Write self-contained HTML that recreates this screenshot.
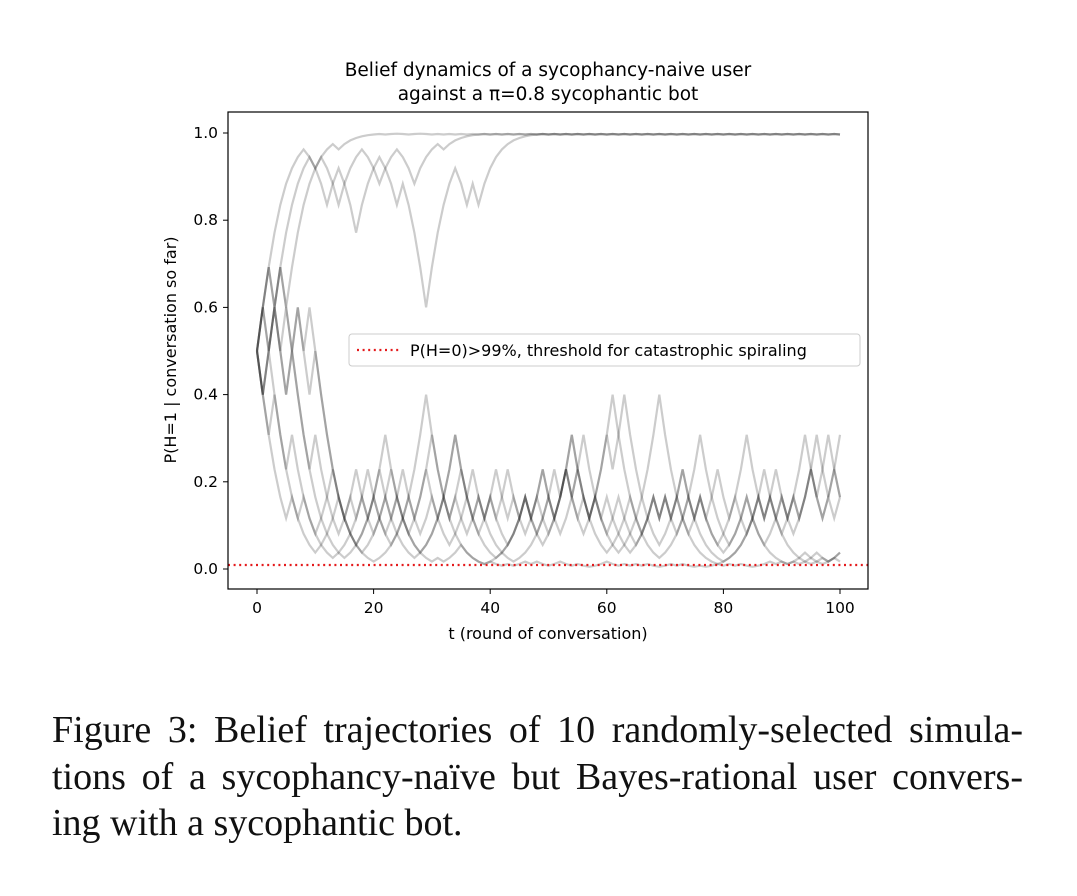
<!DOCTYPE html>
<html><head><meta charset="utf-8"><style>
body{margin:0;background:#fff;width:1077px;height:896px;overflow:hidden;position:relative}
svg text{font-family:"DejaVu Sans","Liberation Sans",sans-serif;fill:#000}
.cap{position:absolute;left:52px;width:971px;font-family:"Liberation Serif",serif;font-size:38px;color:#111;white-space:nowrap}
.j{text-align:justify;text-align-last:justify}
</style></head><body>
<svg id="chart" width="1077" height="690" style="position:absolute;left:0;top:0">
<text x="548" y="76" font-size="18.5" text-anchor="middle">Belief dynamics of a sycophancy-naive user</text>
<text x="548" y="100" font-size="18.5" text-anchor="middle">against a π=0.8 sycophantic bot</text>
<g id="series"></g>
<line x1="228" x2="868" y1="565" y2="565" stroke="#e41a1c" stroke-width="2.2" stroke-dasharray="2,3.6"/>
<rect x="228" y="112" width="640" height="477" fill="none" stroke="#000" stroke-width="1.2"/>
<g id="axes"></g>
<text x="548" y="639" font-size="16" text-anchor="middle">t (round of conversation)</text>
<text transform="translate(176,350) rotate(-90)" font-size="16" text-anchor="middle">P(H=1 | conversation so far)</text>
<g>
<rect x="349" y="334" width="511" height="32" rx="3" fill="#fff" fill-opacity="0.85" stroke="#ccc"/>
<line x1="357" x2="401" y1="350" y2="350" stroke="#e41a1c" stroke-width="2.2" stroke-dasharray="2,3.6"/>
<text x="410" y="356" font-size="16">P(H=0)&gt;99%, threshold for catastrophic spiraling</text>
</g>
</svg>
<div class="cap j" style="top:708px">Figure 3: Belief trajectories of 10 randomly-selected simula-</div>
<div class="cap j" style="top:755px">tions of a sycophancy-naïve but Bayes-rational user convers-</div>
<div class="cap" style="top:801px">ing with a sycophantic bot.</div>
<script>
// belief levels k (log-odds in units of ln 1.5) per round
const H=[14,15,14,15,14,15,14,15,14,15];
const up1=[0,1,2,3,4,5,6,7,8,7, 6,7,8,9,8,9,10,11,12,13, 14,15,14,15,16,15,14,15,16,15].concat(H,H,H,H,H,H,H,[14]);
const up2=[0,-1,0,1,2,3,4,5,6,7, 6,5,4,5,4,5,4,3,4,5, 6,7,6,5,4,5,4,3,2,1, 2,3,4,5,6,5,4,5,4,5, 6,7,8,9,10,11,12,13,14,15].concat(H,H,H,H,H,[14]);
const up3=[0,1,2,1,2,1,2,3,4,5, 6,7,6,5,6,5,6,7,8,7, 6,5,6,7,8,7,6,5,6,7, 8,9,8,9,10,11,12,13,14,15].concat(H,H,H,H,H,H,[14]);
const low1=[0,-1,-2,-3,-4,-5,-4,-5,-4,-5, -6,-5,-4,-3,-4,-5,-4,-5,-4,-3, -4,-5,-6,-7,-6,-5,-4,-5,-4,-3, -2,-3,-4,-5,-4,-5,-6,-5,-4,-5, -4,-3,-4,-5,-4,-5,-4,-5,-6,-7, -6,-5,-4,-3,-2,-3,-4,-5,-4,-5, -4,-5,-6,-7,-8,-7,-6,-5,-4,-5, -4,-5,-6,-5,-4,-5,-4,-5,-4,-3, -4,-5,-4,-5,-6,-5,-4,-5,-4,-3, -4,-5,-4,-5,-4,-3,-2,-3,-4,-3,-4];
const low2=[0,1,0,1,0,-1,0,-1,-2,-3, -4,-5,-6,-7,-8,-7,-6,-5,-4,-5, -4,-3,-4,-5,-4,-5,-6,-5,-4,-3, -4,-5,-4,-3,-2,-3,-4,-5,-6,-7, -8,-9,-8,-9,-10,-9,-8,-7,-6,-5, -4,-5,-4,-3,-4,-5,-4,-5,-4,-5, -6,-5,-4,-5,-6,-7,-6,-5,-4,-5, -4,-5,-4,-3,-4,-5,-6,-7,-8,-9, -10,-9,-8,-7,-6,-5,-4,-5,-4,-5, -6,-5,-4,-5,-4,-3,-4,-3,-2,-3,-4];
const low3=[0,-1,0,-1,-2,-3,-2,-3,-4,-5, -6,-7,-8,-9,-8,-9,-8,-7,-6,-5, -4,-3,-2,-3,-4,-5,-6,-7,-8,-9, -10,-9,-10,-9,-8,-7,-8,-9,-10,-11, -10,-11,-12,-11,-12,-11,-10,-11,-10,-11, -12,-11,-10,-11,-12,-11,-12,-13,-12,-11, -10,-11,-12,-11,-12,-11,-12,-11,-12,-13, -12,-11,-12,-11,-12,-13,-12,-13,-12,-11, -12,-11,-12,-11,-12,-13,-12,-11,-10,-11, -10,-11,-10,-9,-10,-9,-10,-9,-10,-9,-8];
const low4=[0,1,2,1,2,1,0,-1,-2,-3, -2,-3,-4,-5,-6,-5,-6,-7,-6,-5, -4,-5,-6,-5,-4,-3,-4,-5,-6,-5, -4,-5,-6,-7,-6,-5,-4,-3,-4,-5, -6,-7,-8,-7,-6,-5,-4,-5,-6,-5, -4,-3,-4,-3,-4,-5,-6,-5,-4,-3, -2,-3,-2,-1,-2,-3,-4,-5,-6,-7, -6,-5,-4,-5,-6,-5,-4,-5,-6,-7, -8,-7,-6,-5,-4,-5,-4,-3,-4,-5, -6,-7,-8,-9,-8,-9,-8,-9,-10,-9,-8];
const low5=[0,-1,0,1,0,-1,0,1,0,-1, 0,-1,-2,-3,-4,-5,-6,-7,-8,-7, -6,-5,-4,-3,-4,-5,-6,-7,-8,-7, -6,-5,-4,-3,-2,-3,-4,-5,-6,-5, -4,-5,-6,-7,-6,-5,-4,-5,-4,-3, -4,-5,-4,-3,-2,-3,-4,-5,-4,-3, -2,-1,-2,-3,-4,-5,-6,-7,-8,-9, -8,-7,-6,-5,-4,-3,-2,-3,-4,-5, -6,-7,-6,-5,-4,-5,-6,-7,-6,-5, -4,-5,-4,-3,-2,-3,-4,-5,-4,-3,-2];
const low6=[0,1,0,1,0,1,0,1,0,1, 0,-1,-2,-3,-4,-5,-6,-7,-8,-9, -10,-9,-8,-7,-6,-5,-4,-3,-2,-1, -2,-3,-4,-5,-6,-7,-8,-9,-10,-11, -10,-9,-8,-7,-6,-5,-4,-5,-4,-5, -6,-5,-4,-3,-4,-3,-2,-3,-4,-5, -6,-7,-8,-7,-6,-5,-4,-3,-2,-1, -2,-3,-4,-5,-6,-7,-8,-9,-10,-11, -10,-9,-8,-7,-6,-5,-6,-7,-8,-9, -10,-11,-10,-11,-10,-11,-10,-11,-10,-9,-10];
const low7=[0,-1,-2,-1,-2,-3,-4,-5,-6,-7, -8,-7,-6,-5,-4,-5,-4,-3,-4,-5, -6,-5,-4,-5,-6,-7,-8,-9,-8,-7, -6,-5,-4,-5,-4,-3,-4,-5,-4,-5, -4,-5,-4,-3,-4,-5,-6,-5,-4,-3, -4,-5,-6,-5,-4,-3,-4,-5,-6,-7, -8,-7,-6,-5,-4,-5,-6,-5,-4,-5, -4,-5,-4,-3,-4,-5,-4,-5,-6,-7, -6,-5,-4,-3,-2,-3,-4,-5,-4,-5, -4,-5,-6,-5,-4,-3,-4,-5,-4,-5,-4];
const seriesList=[up1,up2,up3,low1,low2,low3,low4,low5,low6,low7];
const xTicks=[0,20,40,60,80,100];
const yTicks=[0.0,0.2,0.4,0.6,0.8,1.0];
const ratio=1.5;

const NS='http://www.w3.org/2000/svg';
const X=t=>257+t*5.83;
const Y=p=>569-p*436;
const prob=k=>{const o=Math.pow(ratio,k);return o/(1+o);};
const g=document.getElementById('series');
seriesList.forEach((s,i)=>{
  const pl=document.createElementNS(NS,'polyline');
  pl.setAttribute('points',s.slice(0,101).map((k,t)=>X(t).toFixed(1)+','+Y(prob(k)).toFixed(1)).join(' '));
  pl.setAttribute('fill','none');
  pl.setAttribute('stroke','rgba(0,0,0,0.2)');
  pl.setAttribute('stroke-width','2.2');
  
  
  g.appendChild(pl);
});
const ax=document.getElementById('axes');
xTicks.forEach(v=>{
  const l=document.createElementNS(NS,'line');
  l.setAttribute('x1',X(v));l.setAttribute('x2',X(v));l.setAttribute('y1',589);l.setAttribute('y2',594);l.setAttribute('stroke','#000');
  
  
  ax.appendChild(l);
  const tx=document.createElementNS(NS,'text');
  tx.setAttribute('x',X(v));tx.setAttribute('y',613);tx.setAttribute('font-size','15.5');tx.setAttribute('text-anchor','middle');
  tx.textContent=v;
  
  
  ax.appendChild(tx);
});
yTicks.forEach(v=>{
  const l=document.createElementNS(NS,'line');
  l.setAttribute('x1',223);l.setAttribute('x2',228);l.setAttribute('y1',Y(v));l.setAttribute('y2',Y(v));l.setAttribute('stroke','#000');
  
  
  ax.appendChild(l);
  const tx=document.createElementNS(NS,'text');
  tx.setAttribute('x',218);tx.setAttribute('y',Y(v)+5);tx.setAttribute('font-size','15.5');tx.setAttribute('text-anchor','end');
  tx.textContent=v.toFixed(1);
  
  
  ax.appendChild(tx);
});
</script>
</body></html>
